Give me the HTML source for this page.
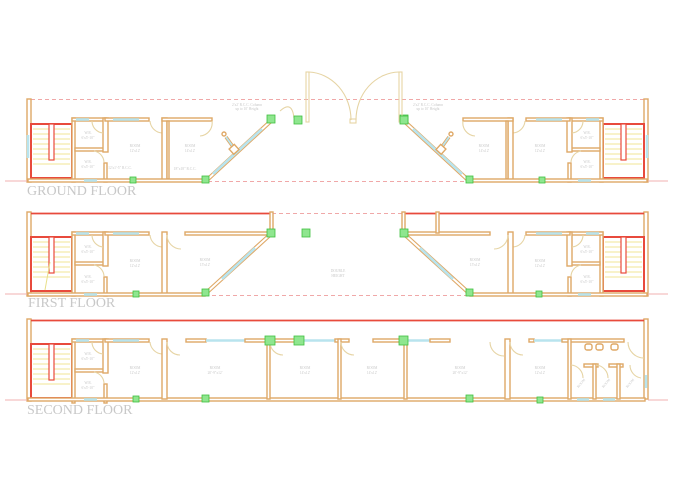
<!DOCTYPE html>
<html><head><meta charset="utf-8"><style>
html,body{margin:0;padding:0;background:#fff;width:680px;height:480px;overflow:hidden}
svg{display:block}
text{font-family:"Liberation Serif",serif;fill:#c8c8c8}
.w{fill:#fff;stroke:#dfa866;stroke-width:1.4}
.win{stroke:#b8e4ee;stroke-width:2.6}
.red{stroke:#e84a3c;stroke-width:2;fill:none}
.dash{stroke:#f0a8a8;stroke-width:1;stroke-dasharray:4 3;fill:none}
.arc{fill:none;stroke:#e6d4a4;stroke-width:1.1}
.col{fill:#8fe68f;stroke:#3fc03f;stroke-width:0.8}
.tr{stroke:#f2e494;stroke-width:1.1}
.lbl{font-size:3.6px;text-anchor:middle}
</style></head><body>
<svg width="680" height="480" viewBox="0 0 680 480" xmlns="http://www.w3.org/2000/svg">
<defs>
<g id="stairs">
  <rect x="31" y="0" width="41" height="54" class="red" fill="none"/>
  <g class="tr">
    <line x1="33" y1="5" x2="70" y2="5"/><line x1="33" y1="10" x2="70" y2="10"/><line x1="33" y1="15" x2="70" y2="15"/>
    <line x1="33" y1="20" x2="70" y2="20"/><line x1="33" y1="25" x2="70" y2="25"/><line x1="33" y1="30" x2="70" y2="30"/>
    <line x1="33" y1="35" x2="70" y2="35"/><line x1="33" y1="40" x2="70" y2="40"/>
  </g>
  <rect x="49" y="0" width="5" height="36" fill="#fff" stroke="#e84a3c" stroke-width="1.2"/>
</g>
<g id="wrblock">
  <rect x="72" y="0" width="3" height="64" class="w"/>
  <rect x="72" y="0" width="34" height="3" class="w"/>
  <line x1="76" y1="1.5" x2="89" y2="1.5" class="win"/>
  <rect x="75" y="30" width="30" height="3" class="w"/>
  <rect x="103" y="0" width="5" height="34" class="w"/>
  <rect x="104" y="45" width="3" height="19" class="w"/>
  <path d="M92 3 A12 12 0 0 0 103 15" class="arc"/>
  <path d="M94 33 A12 12 0 0 1 104 44" class="arc"/>
  <rect x="105" y="0" width="44" height="3" class="w"/>
  <line x1="113" y1="1.5" x2="139" y2="1.5" class="win"/>
  <path d="M150 3 A13 13 0 0 0 162 15" class="arc"/>
</g>
<g id="gfhalf">
  <rect x="27" y="99" width="4" height="83" class="w"/>
  <use href="#stairs" y="124"/>
  <use href="#wrblock" y="118"/>
  <rect x="162" y="118" width="5" height="62" class="w"/>
  <rect x="162" y="118" width="50" height="3" class="w"/>
  <rect x="167" y="121" width="2" height="58" class="w"/>
  <path d="M212 121 A13 13 0 0 1 200 136" class="arc"/>
  <rect x="28" y="179" width="180" height="3" class="w"/>
  <line x1="84" y1="180.5" x2="97" y2="180.5" class="win"/>
  <line x1="28" y1="135" x2="28" y2="158" class="win"/>
  <line x1="207" y1="180" x2="272" y2="120" stroke="#dfa866" stroke-width="4.2"/>
  <line x1="207" y1="180" x2="272" y2="120" stroke="#fff" stroke-width="2"/>
  <line x1="213" y1="174" x2="262" y2="129" class="win"/>
  <line x1="236" y1="151" x2="226" y2="137" stroke="#dfa866" stroke-width="3.5"/>
  <line x1="236" y1="151" x2="226" y2="137" stroke="#b8e4ee" stroke-width="1.8"/>
  <circle cx="224" cy="134" r="2" class="w"/>
  <rect x="231" y="146" width="7" height="7" class="w" transform="rotate(-42 234 150)"/>
  <rect x="130" y="177" width="6" height="6" class="col"/>
  <rect x="202" y="176" width="7" height="7" class="col"/>
  <rect x="267" y="115" width="8" height="8" class="col"/>
</g>
<g id="ffhalf">
  <rect x="27" y="212" width="4" height="84" class="w"/>
  <line x1="31" y1="213.5" x2="272" y2="213.5" stroke="#e84a3c" stroke-width="1.8"/>
  <rect x="270" y="212" width="3" height="21" class="w"/>
  <use href="#stairs" y="237"/>
  <use href="#wrblock" y="232"/>
  <rect x="162" y="232" width="5" height="62" class="w"/>
  <rect x="185" y="232" width="87" height="3" class="w"/>
  <path d="M167 235 A14 14 0 0 0 181 249" class="arc"/>
  <rect x="28" y="293" width="177" height="3" class="w"/>
  <line x1="84" y1="294.5" x2="97" y2="294.5" class="win"/>
  <line x1="205" y1="294" x2="272" y2="233" stroke="#dfa866" stroke-width="4.2"/>
  <line x1="205" y1="294" x2="272" y2="233" stroke="#fff" stroke-width="2"/>
  <line x1="222" y1="279" x2="255" y2="248" class="win"/>
  <rect x="133" y="291" width="6" height="6" class="col"/>
  <rect x="202" y="289" width="7" height="7" class="col"/>
  <rect x="267" y="229" width="8" height="8" class="col"/>
</g>
</defs>

<line x1="31" y1="99.5" x2="648" y2="99.5" class="dash"/>
<line x1="208" y1="181.5" x2="468" y2="181.5" class="dash"/>
<use href="#gfhalf"/>
<use href="#gfhalf" transform="translate(675,0) scale(-1,1)"/>
<rect x="306" y="72" width="3" height="50" class="arc"/>
<rect x="399" y="72" width="3" height="50" class="arc"/>
<path d="M309 72 A44 48 0 0 1 351 120" class="arc"/>
<path d="M399 72 A44 48 0 0 0 356 120" class="arc"/>
<rect x="350" y="119" width="6" height="4" class="arc"/>
<path d="M280 111 Q292 100 294 118" class="arc"/>
<rect x="294" y="116" width="8" height="8" class="col"/>
<rect x="400" y="116" width="8" height="8" class="col"/>
<line x1="5" y1="181" x2="27" y2="181" stroke="#f0b0b0" stroke-width="1"/>
<line x1="648" y1="181" x2="668" y2="181" stroke="#f0b0b0" stroke-width="1"/>
<text x="27" y="195" font-size="14">GROUND FLOOR</text>
<g class="lbl">
<text x="88" y="134">W.R.</text><text x="88" y="139">6'x5'-10"</text>
<text x="88" y="163">W.R.</text><text x="88" y="168">6'x5'-10"</text>
<text x="135" y="147">ROOM</text><text x="135" y="152">12'x12'</text>
<text x="190" y="147">ROOM</text><text x="190" y="152">14'x12'</text>
<text x="120" y="169">12'x1'-5" R.C.C.</text>
<text x="185" y="170">18"x18" R.C.C.</text>
<text x="247" y="106">2'x2' R.C.C. Column</text><text x="247" y="110">up to 10' Height</text>
<text x="428" y="106">2'x2' R.C.C. Column</text><text x="428" y="110">up to 10' Height</text>
<text x="540" y="147">ROOM</text><text x="540" y="152">12'x12'</text>
<text x="484" y="147">ROOM</text><text x="484" y="152">14'x12'</text>
<text x="587" y="134">W.R.</text><text x="587" y="139">6'x5'-10"</text>
<text x="587" y="163">W.R.</text><text x="587" y="168">6'x5'-10"</text>
</g>

<line x1="272" y1="213.5" x2="405" y2="213.5" class="dash"/>
<line x1="205" y1="295.5" x2="470" y2="295.5" class="dash"/>
<use href="#ffhalf"/>
<use href="#ffhalf" transform="translate(675,0) scale(-1,1)"/>
<rect x="302" y="229" width="8" height="8" class="col"/>
<rect x="436" y="212" width="3" height="21" class="w"/>
<line x1="5" y1="294" x2="27" y2="294" stroke="#f0b0b0" stroke-width="1"/>
<line x1="648" y1="294" x2="668" y2="294" stroke="#f0b0b0" stroke-width="1"/>
<line x1="50" y1="262" x2="45" y2="290" stroke="#e8e08a" stroke-width="1"/>
<text x="28" y="307" font-size="14">FIRST FLOOR</text>
<g class="lbl">
<text x="88" y="248">W.R.</text><text x="88" y="253">6'x5'-10"</text>
<text x="88" y="278">W.R.</text><text x="88" y="283">6'x5'-10"</text>
<text x="135" y="262">ROOM</text><text x="135" y="267">12'x12'</text>
<text x="205" y="261">ROOM</text><text x="205" y="266">15'x12'</text>
<text x="338" y="272">DOUBLE</text><text x="338" y="277">HEIGHT</text>
<text x="475" y="261">ROOM</text><text x="475" y="266">15'x12'</text>
<text x="540" y="262">ROOM</text><text x="540" y="267">12'x12'</text>
<text x="587" y="248">W.R.</text><text x="587" y="253">6'x5'-10"</text>
<text x="587" y="278">W.R.</text><text x="587" y="283">6'x5'-10"</text>
</g>

<rect x="27" y="319" width="4" height="82" class="w"/>
<rect x="644" y="319" width="4" height="80" class="w"/>
<line x1="31" y1="320.5" x2="644" y2="320.5" stroke="#e84a3c" stroke-width="1.8"/>
<use href="#stairs" y="344"/>
<use href="#wrblock" y="339"/>
<rect x="28" y="398" width="617" height="3" class="w"/>
<line x1="84" y1="399.5" x2="97" y2="399.5" class="win"/>
<line x1="577" y1="399.5" x2="589" y2="399.5" class="win"/>
<line x1="603" y1="399.5" x2="615" y2="399.5" class="win"/>
<line x1="646" y1="375" x2="646" y2="388" class="win"/>
<rect x="162" y="339" width="5" height="60" class="w"/>
<rect x="186" y="339" width="20" height="3" class="w"/>
<line x1="206" y1="340.5" x2="245" y2="340.5" class="win"/>
<rect x="245" y="339" width="55" height="3" class="w"/>
<line x1="300" y1="340.5" x2="335" y2="340.5" class="win"/>
<rect x="335" y="339" width="14" height="3" class="w"/>
<rect x="373" y="339" width="30" height="3" class="w"/>
<line x1="403" y1="340.5" x2="430" y2="340.5" class="win"/>
<rect x="430" y="339" width="20" height="3" class="w"/>
<rect x="505" y="339" width="5" height="60" class="w"/>
<rect x="529" y="339" width="5" height="3" class="w"/>
<line x1="534" y1="340.5" x2="562" y2="340.5" class="win"/>
<rect x="562" y="339" width="62" height="3" class="w"/>
<rect x="267" y="339" width="3" height="60" class="w"/>
<rect x="338" y="339" width="3" height="60" class="w"/>
<rect x="404" y="339" width="3" height="60" class="w"/>
<rect x="568" y="339" width="3" height="60" class="w"/>
<path d="M167 342 A13 13 0 0 0 180 355" class="arc"/>
<path d="M270 342 A13 13 0 0 0 283 355" class="arc"/>
<path d="M341 342 A13 13 0 0 0 354 355" class="arc"/>
<path d="M490 342 A14 14 0 0 0 504 356" class="arc"/>
<path d="M510 342 A13 13 0 0 0 523 355" class="arc"/>
<path d="M628 342 A16 16 0 0 0 644 358" class="arc"/>
<rect x="585" y="344" width="7" height="6" rx="2" class="w"/>
<rect x="596" y="344" width="7" height="6" rx="2" class="w"/>
<rect x="611" y="344" width="7" height="6" rx="2" class="w"/>
<rect x="584" y="364" width="14" height="3" class="w"/>
<rect x="593" y="364" width="3" height="35" class="w"/>
<rect x="609" y="364" width="14" height="3" class="w"/>
<rect x="617" y="364" width="3" height="35" class="w"/>
<path d="M571 365 A13 13 0 0 1 583 378" class="arc"/>
<path d="M596 365 A13 13 0 0 1 608 378" class="arc"/>
<path d="M630 365 A13 13 0 0 0 641 378" class="arc"/>
<rect x="265" y="336" width="10" height="9" class="col"/>
<rect x="294" y="336" width="10" height="9" class="col"/>
<rect x="399" y="336" width="9" height="9" class="col"/>
<rect x="133" y="396" width="6" height="6" class="col"/>
<rect x="202" y="395" width="7" height="7" class="col"/>
<rect x="466" y="395" width="7" height="7" class="col"/>
<rect x="537" y="397" width="6" height="6" class="col"/>
<line x1="5" y1="400" x2="27" y2="400" stroke="#f0b0b0" stroke-width="1"/>
<line x1="648" y1="400" x2="668" y2="400" stroke="#f0b0b0" stroke-width="1"/>
<text x="27" y="414" font-size="14">SECOND FLOOR</text>
<g class="lbl">
<text x="88" y="355">W.R.</text><text x="88" y="360">6'x5'-10"</text>
<text x="88" y="384">W.R.</text><text x="88" y="389">6'x5'-10"</text>
<text x="135" y="369">ROOM</text><text x="135" y="374">12'x12'</text>
<text x="215" y="369">ROOM</text><text x="215" y="374">20'-9"x12'</text>
<text x="305" y="369">ROOM</text><text x="305" y="374">14'x12'</text>
<text x="372" y="369">ROOM</text><text x="372" y="374">14'x12'</text>
<text x="460" y="369">ROOM</text><text x="460" y="374">20'-9"x12'</text>
<text x="540" y="369">ROOM</text><text x="540" y="374">12'x12'</text>
<text x="582" y="384" transform="rotate(-50 582 384)">ROOM</text>
<text x="607" y="384" transform="rotate(-50 607 384)">ROOM</text>
<text x="631" y="384" transform="rotate(-50 631 384)">ROOM</text>
</g>
</svg>
</body></html>
